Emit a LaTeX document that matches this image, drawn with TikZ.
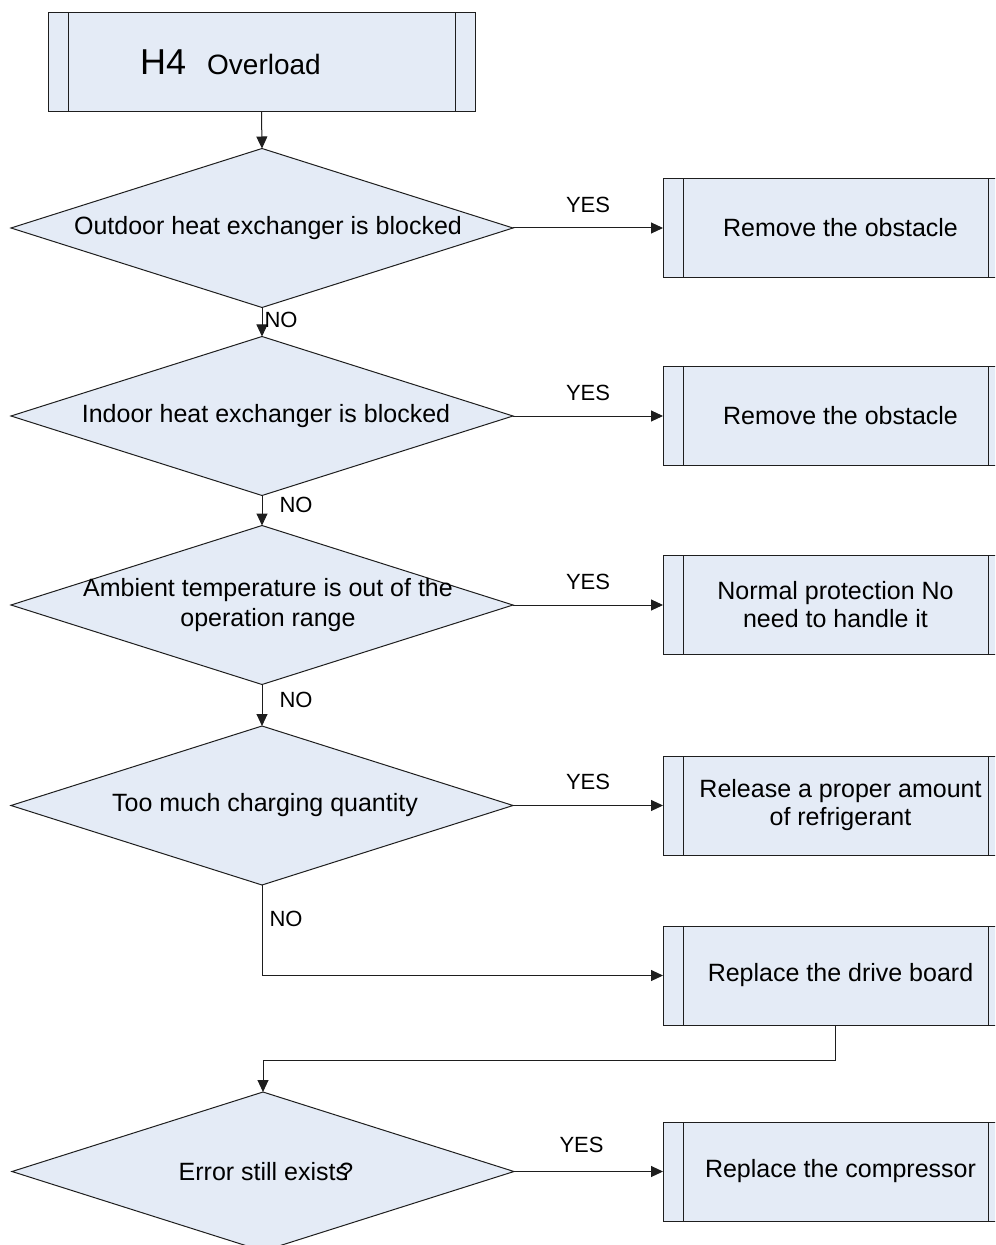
\documentclass[tikz,border=0pt]{standalone}
\usepackage{fontspec}
\setmainfont{Liberation Sans}
\usetikzlibrary{shapes.geometric,arrows.meta}
\definecolor{boxfill}{RGB}{228,235,246}
\definecolor{linec}{RGB}{30,30,30}
\tikzset{
  base/.style={draw=linec, line width=0.5pt, fill=boxfill, inner sep=0pt, outer sep=0pt},
  decision/.style={base, diamond, minimum width=251pt, minimum height=79.5pt,
    font=\fontsize{12.5}{15}\selectfont},
  procbase/.style={base, rectangle, minimum width=172.5pt, minimum height=49.5pt,
    font=\fontsize{12.5}{14}\selectfont,
    path picture={\draw[linec, line width=0.5pt]
      ([xshift=10pt]path picture bounding box.north west) -- ([xshift=10pt]path picture bounding box.south west)
      ([xshift=-10pt]path picture bounding box.north east) -- ([xshift=-10pt]path picture bounding box.south east);}},
  process/.style={procbase, align=center},
  arr/.style={draw=linec, line width=0.5pt, -{Triangle[length=6pt, width=5.5pt]}},
  lbl/.style={font=\fontsize{11}{13}\selectfont, inner sep=0pt, text=black},
}
\begin{document}
\begin{tikzpicture}[x=0.5pt, y=-0.5pt]
\clip (0,0) rectangle (995,1245);
\fill[white] (0,0) rectangle (995,1245);

% start box
\node[procbase, minimum width=213.5pt] (top) at (261.5,62.5)
  {\fontsize{18}{20}\selectfont H4\kern10.5pt\fontsize{14}{16}\selectfont Overload\kern31pt};

% decisions
\node[decision] (d1) at (262,228) {\makebox[0pt]{\kern6pt Outdoor heat exchanger is blocked}};
\node[decision] (d2) at (262,416) {\makebox[0pt]{\kern4pt Indoor heat exchanger is blocked}};
\node[decision] (d3) at (262,605) {\makebox[0pt]{\kern6pt\begin{tabular}{@{}c@{}}Ambient temperature is out of the\\ operation range\end{tabular}}};
\node[decision] (d4) at (262,805.5) {\makebox[0pt]{\kern3pt Too much charging quantity}};
\node[decision] (d6) at (263,1171.5) {\makebox[0pt]{\kern3pt Error still exists\kern-0.35em?}};

% process boxes
\node[process] (b1) at (835.5,228) {\kern5pt Remove the obstacle};
\node[process] (b2) at (835.5,416) {\kern5pt Remove the obstacle};
\node[process] (b3) at (835.5,605) {Normal protection No\\ need to handle it};
\node[process] (b4) at (835.5,805.5) {\kern5pt Release a proper amount\\ \kern5pt of refrigerant};
\node[process] (b5) at (835.5,975.5) {\kern5pt Replace the drive board};
\node[process] (b6) at (835.5,1171.5) {\kern5pt Replace the compressor};

% connectors
\draw[arr] (top.south) -- (d1.north);
\draw[arr] (d1.east) -- node[lbl, above, yshift=7.5pt] {YES} (b1.west);
\draw[arr] (d1.south) -- node[lbl, anchor=west, xshift=1pt, yshift=1pt] {NO} (d2.north);
\draw[arr] (d2.east) -- node[lbl, above, yshift=7.5pt] {YES} (b2.west);
\draw[arr] (d2.south) -- node[lbl, anchor=west, xshift=8.5pt, yshift=2.75pt] {NO} (d3.north);
\draw[arr] (d3.east) -- node[lbl, above, yshift=7.5pt] {YES} (b3.west);
\draw[arr] (d3.south) -- node[lbl, anchor=west, xshift=8.5pt, yshift=2.5pt] {NO} (d4.north);
\draw[arr] (d4.east) -- node[lbl, above, yshift=7.5pt] {YES} (b4.west);
\draw[arr] (d4.south) |- node[lbl, pos=0.19, anchor=west, xshift=3.5pt] {NO} (b5.west);
\draw[arr] (b5.south) -- ++(0,35) -| (d6.north);
\draw[arr] (d6.east) -- node[lbl, above, yshift=9pt, xshift=-3.5pt] {YES} (b6.west);
\end{tikzpicture}
\end{document}
